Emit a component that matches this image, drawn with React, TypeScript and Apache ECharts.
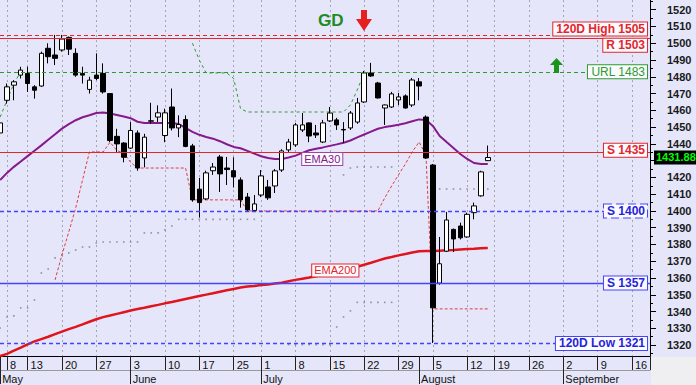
import React, { useEffect, useRef } from 'react';
import * as echarts from 'echarts';

// ---------- calendar ----------
const HOLIDAYS = ['2024-06-24', '2024-08-15'];
function buildTradingDays(start: string, end: string, holidays: string[]): string[] {
  const out: string[] = [];
  const d = new Date(start + 'T00:00:00Z');
  const e = new Date(end + 'T00:00:00Z');
  while (d <= e) {
    const dow = d.getUTCDay();
    const s = d.toISOString().slice(0, 10);
    if (dow !== 0 && dow !== 6 && !holidays.includes(s)) out.push(s);
    d.setUTCDate(d.getUTCDate() + 1);
  }
  return out;
}
const tradingDays = buildTradingDays('2024-05-07', '2024-09-20', HOLIDAYS);

const weekTickDates = [
  '2024-05-08', '2024-05-13', '2024-05-20', '2024-05-27', '2024-06-03', '2024-06-10', '2024-06-17',
  '2024-06-25', '2024-07-01', '2024-07-08', '2024-07-15', '2024-07-22', '2024-07-29', '2024-08-05',
  '2024-08-12', '2024-08-19', '2024-08-26', '2024-09-02', '2024-09-09', '2024-09-16',
];
const monthTickDates = ['2024-05-07', '2024-06-03', '2024-07-01', '2024-08-01', '2024-09-02'];
const monthNames = ['May', 'June', 'July', 'August', 'September'];

// ---------- price data (May 7 .. Aug 16) ----------
const open = [
  1446.5, 1466, 1475, 1481, 1482, 1474, 1474.5, 1497, 1493, 1496,
  1503.5, 1494, 1482, 1472.5, 1481, 1482, 1470, 1444.5, 1440.5, 1437.5,
  1446.5, 1431.6, 1453.5, 1456, 1445, 1462, 1449.5, 1454.5, 1438.8, 1413,
  1407.2, 1424, 1432.2, 1425.6, 1424, 1418.5, 1408.3, 1400.3, 1409.5, 1414.3,
  1414.9, 1424.4, 1436.4, 1439.4, 1448.3, 1452.5, 1446.5, 1441.1, 1453.7, 1454.3,
  1448.6, 1449.5, 1453, 1465, 1482.3, 1476.3, 1461.4, 1462, 1466.2, 1468.6,
  1463.2, 1477, 1456, 1427.4, 1357, 1376, 1389, 1391, 1384.5, 1399,
  1409, 1430,
];
const close = [
  1452.5, 1474, 1477, 1484, 1476, 1472, 1494, 1492, 1491, 1502.5,
  1496.5, 1481, 1481, 1478, 1479, 1471, 1442, 1440, 1432, 1448,
  1425.6, 1444, 1453.8, 1458.5, 1458.5, 1449.5, 1451.5, 1438.5, 1406.6, 1405,
  1422.7, 1426.2, 1422.1, 1424.7, 1420.3, 1406.6, 1400.6, 1404.2, 1420.9, 1407.8,
  1423.9, 1435.8, 1441.1, 1451.3, 1451.3, 1444.7, 1445.3, 1452.5, 1458.4, 1451.3,
  1448.3, 1458.4, 1464.4, 1482.3, 1480.5, 1467.4, 1463.2, 1469.8, 1468, 1461.4,
  1478.1, 1474.5, 1431.6, 1342.2, 1368.5, 1394.6, 1383.3, 1384, 1398, 1403,
  1423.3, 1431.88,
];
const low = [
  1444, 1464, 1466, 1479, 1471, 1467, 1474, 1488, 1487, 1495,
  1493, 1480, 1476, 1470, 1478, 1470, 1441, 1435, 1429, 1437,
  1424, 1426, 1452, 1453, 1441, 1448, 1444, 1438, 1405.5, 1396,
  1406.5, 1421.5, 1411.3, 1415.5, 1414, 1402, 1399.4, 1399.4, 1408.3, 1406.6,
  1410.7, 1423.3, 1435.2, 1438.2, 1447.1, 1441, 1443.5, 1440.5, 1453, 1448.3,
  1440.5, 1448.3, 1452, 1464.4, 1480, 1467, 1451.3, 1461.4, 1463.2, 1461,
  1462, 1466, 1431, 1321.3, 1356, 1375.5, 1375.5, 1383, 1384, 1395,
  1408.5, 1429.8,
];
const high = [
  1455, 1476, 1478, 1486, 1486, 1475, 1495, 1500, 1505, 1505,
  1504, 1497, 1486, 1480, 1494, 1488, 1470, 1449, 1441, 1453,
  1448, 1446, 1464.5, 1463, 1461, 1473, 1457, 1457, 1440, 1419.7,
  1424, 1428.6, 1433.4, 1432.2, 1432, 1420, 1410.7, 1409.5, 1424.4, 1418.5,
  1425, 1436.8, 1443, 1452.5, 1458.4, 1452.8, 1451.3, 1454.3, 1462, 1455.5,
  1453, 1459.6, 1467.4, 1483.5, 1488.3, 1477, 1463.5, 1471, 1470.4, 1469.5,
  1479.3, 1479.3, 1457, 1428, 1384.5, 1399.4, 1389.5, 1393, 1399, 1405,
  1424, 1439,
];
const ema30 = [
  1418.5, 1422.7, 1426.3, 1429.5, 1432.7, 1435.9, 1439.1, 1442.5, 1445.7, 1449.1,
  1451.8, 1454.1, 1455.9, 1457.1, 1458.4, 1458.7, 1458.1, 1457.2, 1456.3, 1455.3,
  1453.2, 1452.5, 1452.5, 1452.5, 1452.5, 1452.5, 1451.8, 1449.5, 1447.2, 1445.4,
  1444.1, 1443.1, 1441.6, 1439.8, 1438.2, 1437.4, 1435.8, 1434.2, 1432.6, 1431.6,
  1431, 1431, 1431.9, 1433, 1434.6, 1436.2, 1437.1, 1437.9, 1438.8, 1439.7,
  1440.7, 1442, 1443.9, 1445.6, 1447.3, 1449, 1450, 1450.7, 1451.4, 1452.3,
  1453.5, 1454.6, 1454.3, 1450.7, 1444.7, 1441.1, 1437.6, 1434, 1431, 1428.6,
  1428, 1428,
];
const ema200 = [
  1313.5, 1314.8, 1316.7, 1318.5, 1320.4, 1322.2, 1323.6, 1325, 1326.5, 1328,
  1329.5, 1330.9, 1332.4, 1333.9, 1335.4, 1336.7, 1337.6, 1338.6, 1339.6, 1340.6,
  1341.5, 1342.3, 1343.2, 1344, 1344.9, 1345.7, 1346.6, 1347.5, 1348.4, 1349.3,
  1350.1, 1350.9, 1351.8, 1352.7, 1353.5, 1354.3, 1354.9, 1355.3, 1355.8, 1356.2,
  1356.7, 1357.2, 1358.1, 1358.9, 1359.6, 1360.3, 1361.1, 1362, 1362.9, 1363.9,
  1364.8, 1365.7, 1366.7, 1367.9, 1369.1, 1370.4, 1371.6, 1372.5, 1373.5, 1374.3,
  1375.2, 1376, 1376.1, 1376.1, 1376.3, 1376.5, 1376.7, 1377, 1377.3, 1377.5,
  1377.8, 1377.9,
];
const N = null;
const redStop = [
  N, N, N, N, N, N, N, N, 1358.9, 1373.8,
  1387.5, 1401.8, 1418.5, 1435.2, 1435.2, 1435.2, 1441, 1436, 1434.6, 1429,
  1425.6, 1425.6, 1425.6, 1425.6, 1425.6, 1425.6, 1425.6, 1425.6, 1406.6, 1406.6,
  1406.6, 1406.6, 1406.6, 1406.6, 1406.6, 1406.6, 1400, 1400, 1400, 1400,
  1400, 1400, 1400, 1400, 1400, 1400, 1400, 1400, 1400, 1400,
  1400, 1400, 1400, 1400, 1400, 1400, 1407.8, 1414.9, 1421.5, 1428,
  1435.2, 1441.1, 1433.4, 1341.6, 1341.6, 1341.6, 1341.6, 1341.6, 1341.6, 1341.6,
  1341.6, 1341.6,
];
const greenStop = [
  1456, 1466, 1476, 1483, N, N, N, N, N, N,
  N, N, N, N, N, N, N, N, N, N,
  N, N, N, N, N, N, N, N, 1500, 1490,
  1482.3, 1482.3, 1482.3, 1482.3, 1479, 1461, 1459, 1459, 1459, 1459,
  1459, 1459, 1459, 1459, 1459, 1459, 1459, 1459, 1459, 1459,
  1459, 1463.2, 1472.2, 1482.3, N, N, N, N, N, N,
  N, N, N, N, N, N, N, N, N, N,
  N, N,
];
const grayLowerStop = [
  1330.2, 1336.8, 1337.4, 1342.2, 1342.2, 1346.9, 1363, 1365.4, 1372, 1373.8,
  1375, 1376.7, 1378.5, 1378.5, 1380.9, 1381.5, 1381.5, 1381.5, 1381.5, 1381.5,
  1381.5, 1386.9, 1386.9, 1386.9, 1388.7, 1391, 1395, 1395, 1395, 1395,
  1395, 1395, 1395, 1395, 1395, 1395, 1395, 1395, N, N,
  N, N, 1320.3, 1320.3, 1320.3, 1320.3, 1320.3, 1320.3, 1320.3, 1330.8,
  1336.8, 1340.4, 1345.5, 1345.5, 1345.5, 1345.5, 1345.5, 1345.5, N, N,
  N, N, N, N, N, N, N, N, N, N,
  N, N,
];
const grayUpperStop = [
  N, N, N, N, N, N, N, N, N, N,
  N, N, N, N, N, N, N, N, N, N,
  N, N, N, N, N, N, N, N, N, N,
  N, N, N, N, N, N, N, N, N, N,
  N, N, N, N, N, N, N, N, N, N,
  1421.5, 1425.6, 1426.2, 1426.2, 1426.2, 1426.2, 1426.2, 1426.2, N, N,
  N, N, N, 1413.1, 1413.1, 1413.1, 1413.1, 1413.1, 1413.1, 1413.1,
  1413.1, 1413.1,
];

// ---------- levels ----------
const levelNames = ['120D High', 'R', 'URL', 'S', 'S', 'S', '120D Low'];
const levelValues = [1505, 1503, 1483, 1435, 1400, 1357, 1321];

const yTicks = [
  1320, 1330, 1340, 1350, 1360, 1370, 1380, 1390, 1400, 1410, 1420,
  1430, 1440, 1450, 1460, 1470, 1480, 1490, 1500, 1510, 1520,
];
const yMinorTicks = [
  1315, 1325, 1335, 1345, 1355, 1365, 1375, 1385, 1395, 1405, 1415,
  1425, 1435, 1445, 1455, 1465, 1475, 1485, 1495, 1505, 1515, 1525,
];

// ---------- styles ----------
const FONT = "'Liberation Sans', Arial, sans-serif";
const RED = '#e2262b';
const BLUE_LINE = '#4444ff';
const BLUE_TEXT = '#2424d8';
const GREEN = '#2e9a2e';
const levelStyles = [
  { color: RED, text: RED, type: [4, 3], width: 1, bold: true, border: 'solid', dy: -6 },
  { color: RED, text: RED, type: 'solid', width: 1, bold: true, border: 'solid', dy: 7 },
  { color: GREEN, text: GREEN, type: [4, 3], width: 1, bold: false, border: 'solid', dy: 0 },
  { color: RED, text: RED, type: 'solid', width: 1, bold: true, border: 'solid', dy: -2 },
  { color: BLUE_LINE, text: BLUE_TEXT, type: [4, 3], width: 1.3, bold: true, border: 'dashed', dy: 0 },
  { color: BLUE_LINE, text: BLUE_TEXT, type: 'solid', width: 1.3, bold: true, border: 'solid', dy: 0 },
  { color: BLUE_LINE, text: BLUE_TEXT, type: [4, 3], width: 1.3, bold: true, border: 'solid', dy: 0 },
];

const X_MIN = -0.02;
const X_MAX = 94.62;
const Y_MIN = 1313.5;
const Y_MAX = 1525.8;

const idxOf = (d: string) => tradingDays.indexOf(d);
const weekIdx = weekTickDates.map(idxOf);
const monthIdx = monthTickDates.map(idxOf);

const series1 = (arr: (number | null)[]) => arr.map((v, k) => [k, v == null ? '-' : v]);
const points = (arr: (number | null)[]) =>
  arr.map((v, k) => (v == null ? null : [k, v])).filter((p) => p !== null);

function buildOption() {
  const candleData = open.map((o, k) => [k, o, close[k], low[k], high[k]]);
  const lastClose = close[close.length - 1];
  // the last-price tag on the axis hides the tick label underneath it
  const yLabelValues = yTicks.filter((v) => Math.abs(v - lastClose) > 5);

  const levelLines = levelValues.map((v, i) => {
    const st = levelStyles[i];
    return {
      yAxis: v,
      lineStyle: { color: st.color, type: st.type, width: st.width, opacity: 1 },
      label: {
        show: true,
        position: 'insideEnd',
        distance: 3,
        offset: [0, st.dy],
        formatter: `${levelNames[i]} ${v}`,
        color: st.text,
        fontFamily: FONT,
        fontSize: 12,
        fontWeight: st.bold ? 'bold' : 'normal',
        backgroundColor: '#fbfbff',
        borderColor: st.color,
        borderWidth: 1,
        borderType: st.border,
        padding: [1, 2, 0, 3],
      },
    };
  });

  return {
    animation: false,
    backgroundColor: '#e6e6fa',
    textStyle: { fontFamily: FONT },
    grid: { left: 0, top: 0, width: 650, height: 356, containLabel: false, outerBoundsMode: 'none' },
    xAxis: [
      {
        type: 'value', min: X_MIN, max: X_MAX, position: 'bottom',
        axisLine: { show: true, onZero: false, lineStyle: { color: '#000', width: 1 } },
        axisTick: { show: true, customValues: [...weekIdx, X_MAX], length: 14, lineStyle: { color: '#222' } },
        axisLabel: {
          show: true, customValues: weekIdx, margin: 3, align: 'left', padding: [0, 0, 0, 3],
          fontSize: 11, color: '#111', fontFamily: FONT,
          formatter: (v: number) => String(parseInt(tradingDays[Math.round(v)].slice(8), 10)),
        },
        splitLine: { show: true, lineStyle: { color: '#a4a4b2', width: 1, type: [2, 3] } },
      },
      {
        type: 'value', min: X_MIN, max: X_MAX, position: 'bottom',
        axisLine: { show: false, onZero: false },
        axisTick: { show: true, customValues: monthIdx, length: 28, lineStyle: { color: '#222' } },
        axisLabel: {
          show: true, customValues: monthIdx, margin: 17, align: 'left', padding: [0, 0, 0, 2],
          fontSize: 11, color: '#111', fontFamily: FONT,
          formatter: (v: number) => monthNames[monthIdx.indexOf(Math.round(v))] || '',
        },
        splitLine: { show: false },
      },
      {
        type: 'value', min: X_MIN, max: X_MAX, position: 'bottom', offset: 14,
        axisLine: { show: true, onZero: false, lineStyle: { color: '#9a9a9a', width: 1 } },
        axisTick: { show: false }, axisLabel: { show: false }, splitLine: { show: false },
      },
    ],
    yAxis: [
      {
        type: 'value', position: 'right', min: Y_MIN, max: Y_MAX,
        axisLine: { show: true, onZero: false, lineStyle: { color: '#000', width: 1 } },
        axisTick: { show: true, customValues: yTicks, length: 6, lineStyle: { color: '#000' } },
        axisLabel: {
          show: true, customValues: yLabelValues, margin: 17, fontSize: 11, fontWeight: 'bold',
          color: '#1a1a1a', fontFamily: FONT, formatter: (v: number) => String(v),
        },
        splitLine: { show: false },
      },
      {
        type: 'value', position: 'right', min: Y_MIN, max: Y_MAX,
        axisLine: { show: false, onZero: false },
        axisTick: { show: true, customValues: yMinorTicks, length: 3, lineStyle: { color: '#000' } },
        axisLabel: { show: false }, splitLine: { show: false },
      },
    ],
    series: [
      {
        type: 'scatter', name: 'stopLowDots', data: points(grayLowerStop), symbol: 'rect', symbolSize: 1.6,
        itemStyle: { color: '#7c7c86' }, z: 1, silent: true,
      },
      {
        type: 'scatter', name: 'stopHighDots', data: points(grayUpperStop), symbol: 'rect', symbolSize: 1.6,
        itemStyle: { color: '#7c7c86' }, z: 1, silent: true,
      },
      {
        type: 'line', name: 'redStop', data: series1(redStop), showSymbol: false, connectNulls: false,
        lineStyle: { color: '#e23c44', width: 1, type: [3, 2] }, z: 2, silent: true,
      },
      {
        type: 'line', name: 'greenStop', data: series1(greenStop), showSymbol: false, connectNulls: false,
        lineStyle: { color: '#2e9a2e', width: 1, type: [3, 3] }, z: 2, silent: true,
      },
      {
        type: 'line', name: 'EMA200', data: series1(ema200), showSymbol: false,
        lineStyle: { color: '#e0141c', width: 2.5 }, z: 2, silent: true,
        markPoint: {
          symbol: 'rect', symbolSize: 1, itemStyle: { color: 'rgba(0,0,0,0)' }, silent: true,
          data: [{ coord: [48.8, 1364.5], value: 'EMA200' }],
          label: {
            show: true, position: 'inside', formatter: 'EMA200', color: RED, fontSize: 11, fontFamily: FONT,
            backgroundColor: '#fbfbff', borderColor: RED, borderWidth: 1, padding: [1, 2, 0, 2],
          },
        },
      },
      {
        type: 'line', name: 'EMA30', data: series1(ema30), showSymbol: false,
        lineStyle: { color: '#86198c', width: 2 }, z: 2, silent: true,
        markPoint: {
          symbol: 'rect', symbolSize: 1, itemStyle: { color: 'rgba(0,0,0,0)' }, silent: true,
          data: [{ coord: [46.9, 1431], value: 'EMA30' }],
          label: {
            show: true, position: 'inside', formatter: 'EMA30', color: '#86198c', fontSize: 11, fontFamily: FONT,
            backgroundColor: '#fbfbff', borderColor: '#a040a8', borderWidth: 1, padding: [1, 2, 0, 2],
          },
        },
      },
      {
        type: 'candlestick', name: 'price', data: candleData,
        encode: { x: 0, y: [1, 2, 3, 4] },
        barWidth: 5, z: 3, silent: true,
        itemStyle: { color: '#ffffff', color0: '#000000', borderColor: '#000000', borderColor0: '#000000', borderWidth: 1 },
        markLine: {
          symbol: ['none', 'none'], silent: true, animation: false,
          data: [
            ...levelLines,
            {
              yAxis: lastClose,
              lineStyle: { color: 'rgba(0,0,0,0)', width: 0 },
              label: {
                show: true, position: 'end', distance: 4, formatter: lastClose.toFixed(2),
                color: '#00ff00', backgroundColor: '#000', fontWeight: 'bold', fontSize: 11,
                fontFamily: FONT, padding: [2, 2, 1, 2],
              },
            },
          ],
        },
      },
    ],
    graphic: [
      { type: 'rect', shape: { x: 651, y: 357, width: 45, height: 28 }, style: { fill: '#efeff2' }, z: 0, silent: true },
      {
        type: 'text', x: 318, y: 12, z: 10, silent: true,
        style: { text: 'GD', fill: '#1e8c1e', font: `bold 17px ${FONT}` },
      },
      {
        type: 'polygon', z: 10, silent: true,
        shape: { points: [[361, 10], [367, 10], [367, 19], [372, 19], [364, 31], [356, 19], [361, 19]] },
        style: { fill: '#e6201e' },
      },
      {
        type: 'polygon', z: 10, silent: true,
        shape: { points: [[556.5, 58], [563, 65], [559, 65], [559, 73], [554, 73], [554, 65], [550, 65]] },
        style: { fill: '#1a941a' },
      },
    ],
  };
}

export default function App() {
  const ref = useRef<HTMLDivElement>(null);
  useEffect(() => {
    if (!ref.current) return;
    const chart = echarts.init(ref.current, undefined, { renderer: 'svg' });
    chart.setOption(buildOption() as any);
    return () => chart.dispose();
  }, []);
  return (
    <div
      ref={ref}
      style={{ position: 'fixed', left: 0, top: 0, width: 696, height: 385, background: '#e6e6fa' }}
    />
  );
}
